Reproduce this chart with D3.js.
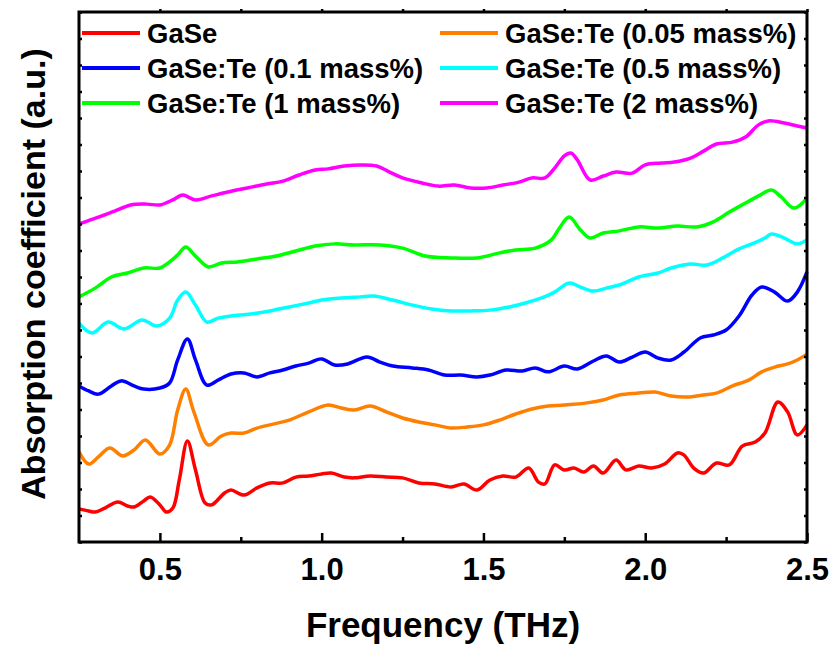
<!DOCTYPE html>
<html>
<head>
<meta charset="utf-8">
<script src="https://cdn.jsdelivr.net/npm/d3@7"></script>
<style>
  body { margin: 0; background: #fff; }
  text { font-family: "Liberation Sans", Arial, sans-serif; font-weight: bold; fill: #000; }
</style>
</head>
<body>
<svg id="chart" width="833" height="650"></svg>
<script>
// Absorption spectra (offset for clarity), frequency in THz, absorption in a.u.
const seriesNames = [
  "GaSe",
  "GaSe:Te (0.05 mass%)",
  "GaSe:Te (0.1 mass%)",
  "GaSe:Te (0.5 mass%)",
  "GaSe:Te (1 mass%)",
  "GaSe:Te (2 mass%)"
];
const seriesColors = ["#ff0000", "#ff8000", "#0000ff", "#00ffff", "#00ff00", "#ff00ff"];

const gaSe = [
  [0.25,1.25],[0.28,1.17],[0.30,1.13],[0.33,1.28],[0.37,1.51],[0.40,1.36],[0.42,1.32],
  [0.45,1.55],[0.47,1.70],[0.50,1.40],[0.52,1.13],[0.54,1.28],[0.56,2.34],[0.585,3.81],
  [0.61,2.72],[0.64,1.47],[0.66,1.40],[0.70,1.85],[0.72,1.96],[0.76,1.77],[0.80,2.04],
  [0.84,2.23],[0.88,2.23],[0.92,2.45],[0.96,2.49],[1.00,2.57],[1.03,2.60],[1.07,2.45],
  [1.10,2.42],[1.15,2.49],[1.20,2.45],[1.25,2.42],[1.30,2.23],[1.35,2.19],[1.40,2.08],
  [1.44,2.19],[1.48,1.96],[1.52,2.34],[1.56,2.49],[1.60,2.45],[1.64,2.79],[1.67,2.26],
  [1.69,2.19],[1.72,2.91],[1.75,2.72],[1.78,2.79],[1.81,2.64],[1.84,2.87],[1.87,2.60],
  [1.91,3.09],[1.94,2.72],[1.98,2.87],[2.02,2.79],[2.06,2.94],[2.10,3.36],[2.12,3.28],
  [2.15,2.79],[2.18,2.60],[2.22,2.98],[2.26,2.91],[2.30,3.62],[2.34,3.77],[2.37,4.11],
  [2.41,5.28],[2.44,4.91],[2.47,4.04],[2.50,4.42]
];
const te005 = [
  [0.25,3.40],[0.28,2.94],[0.31,3.21],[0.345,3.55],[0.385,3.25],[0.42,3.47],[0.455,3.85],
  [0.50,3.32],[0.53,3.66],[0.555,4.98],[0.58,5.77],[0.605,4.91],[0.65,3.66],[0.69,4.00],
  [0.72,4.11],[0.76,4.11],[0.80,4.30],[0.85,4.45],[0.90,4.60],[0.96,4.91],[1.02,5.17],
  [1.06,5.06],[1.10,4.98],[1.15,5.13],[1.20,4.91],[1.25,4.68],[1.30,4.53],[1.35,4.42],
  [1.40,4.30],[1.45,4.34],[1.50,4.42],[1.55,4.60],[1.60,4.83],[1.65,5.02],[1.70,5.13],
  [1.75,5.17],[1.82,5.25],[1.87,5.36],[1.92,5.55],[1.98,5.62],[2.03,5.66],[2.08,5.51],
  [2.13,5.47],[2.18,5.55],[2.22,5.62],[2.27,5.89],[2.32,6.11],[2.36,6.42],[2.40,6.60],
  [2.44,6.72],[2.47,6.87],[2.50,7.09]
];
const te01 = [
  [0.25,5.89],[0.28,5.70],[0.31,5.58],[0.35,5.89],[0.38,6.08],[0.42,5.89],[0.45,5.77],
  [0.50,5.81],[0.53,6.00],[0.555,6.87],[0.585,7.66],[0.61,6.87],[0.645,5.92],[0.68,6.11],
  [0.72,6.34],[0.76,6.38],[0.80,6.23],[0.84,6.38],[0.88,6.49],[0.92,6.64],[0.96,6.75],
  [1.00,6.91],[1.04,6.68],[1.08,6.72],[1.14,6.98],[1.18,6.79],[1.22,6.64],[1.28,6.57],
  [1.33,6.49],[1.38,6.30],[1.43,6.30],[1.48,6.23],[1.52,6.30],[1.57,6.49],[1.62,6.45],
  [1.66,6.57],[1.70,6.42],[1.75,6.64],[1.79,6.53],[1.84,6.83],[1.88,7.02],[1.92,6.79],
  [1.96,6.98],[2.00,7.17],[2.04,6.94],[2.08,6.87],[2.12,7.17],[2.17,7.70],[2.21,7.81],
  [2.25,8.00],[2.29,8.53],[2.33,9.32],[2.36,9.62],[2.40,9.43],[2.44,9.09],[2.47,9.43],
  [2.50,10.19]
];
const te05 = [
  [0.25,8.26],[0.29,7.89],[0.34,8.30],[0.39,8.04],[0.445,8.38],[0.49,8.15],[0.53,8.45],
  [0.555,9.13],[0.58,9.43],[0.61,8.94],[0.645,8.30],[0.68,8.45],[0.72,8.53],[0.78,8.60],
  [0.84,8.72],[0.90,8.87],[0.96,9.02],[1.00,9.13],[1.06,9.21],[1.12,9.25],[1.16,9.28],
  [1.22,9.13],[1.28,8.94],[1.34,8.79],[1.40,8.72],[1.46,8.72],[1.52,8.75],[1.58,8.87],
  [1.63,9.02],[1.68,9.21],[1.72,9.43],[1.765,9.77],[1.80,9.62],[1.84,9.47],[1.88,9.58],
  [1.92,9.70],[1.98,10.00],[2.04,10.15],[2.08,10.34],[2.14,10.49],[2.19,10.45],[2.24,10.72],
  [2.29,11.06],[2.33,11.25],[2.37,11.47],[2.39,11.62],[2.43,11.47],[2.47,11.25],[2.50,11.40]
];
const te1 = [
  [0.25,9.25],[0.30,9.58],[0.35,10.00],[0.40,10.15],[0.45,10.34],[0.50,10.34],[0.53,10.57],
  [0.555,10.83],[0.58,11.13],[0.61,10.79],[0.65,10.38],[0.69,10.53],[0.74,10.57],[0.80,10.68],
  [0.86,10.79],[0.92,10.98],[0.98,11.17],[1.04,11.25],[1.10,11.21],[1.18,11.21],[1.25,11.09],
  [1.32,10.79],[1.40,10.72],[1.48,10.72],[1.55,10.91],[1.60,11.02],[1.66,11.09],[1.71,11.40],
  [1.735,11.85],[1.765,12.26],[1.80,11.77],[1.83,11.47],[1.87,11.66],[1.92,11.74],[1.98,11.89],
  [2.04,11.85],[2.10,11.92],[2.16,11.89],[2.21,12.08],[2.26,12.45],[2.31,12.79],[2.35,13.06],
  [2.39,13.28],[2.42,13.02],[2.46,12.60],[2.50,12.98]
];
const te2 = [
  [0.25,12.00],[0.31,12.26],[0.36,12.49],[0.41,12.72],[0.46,12.75],[0.50,12.72],[0.54,12.91],
  [0.57,13.09],[0.61,12.91],[0.66,13.06],[0.71,13.21],[0.77,13.36],[0.83,13.51],[0.88,13.62],
  [0.93,13.85],[0.98,14.04],[1.02,14.08],[1.07,14.19],[1.12,14.23],[1.17,14.19],[1.21,13.96],
  [1.25,13.74],[1.31,13.55],[1.36,13.43],[1.41,13.47],[1.46,13.36],[1.51,13.36],[1.56,13.47],
  [1.61,13.58],[1.65,13.74],[1.69,13.74],[1.72,14.11],[1.75,14.57],[1.77,14.68],[1.79,14.42],
  [1.83,13.66],[1.87,13.81],[1.91,13.96],[1.96,13.92],[2.00,14.23],[2.05,14.30],[2.09,14.34],
  [2.14,14.49],[2.18,14.75],[2.22,15.02],[2.27,15.09],[2.31,15.28],[2.35,15.74],[2.38,15.89],
  [2.43,15.81],[2.47,15.70],[2.50,15.62]
];
const seriesData = [gaSe, te005, te01, te05, te1, te2];

const xMajorTicks = [0.5, 1.0, 1.5, 2.0, 2.5];
const xMinorTicks = [0.75, 1.25, 1.75, 2.25];
const yTicks = d3.range(0, 21, 1);

const W = 833, H = 650;
const margin = { top: 12, right: 26, bottom: 108, left: 79 };
const svg = d3.select("#chart");

const x = d3.scaleLinear().domain([0.25, 2.5]).range([margin.left, W - margin.right]);
const y = d3.scaleLinear().domain([0, 20]).range([H - margin.bottom, margin.top]);

const plotBottom = H - margin.bottom, plotTop = margin.top;
const plotLeft = margin.left, plotRight = W - margin.right;

// Data curves
const line = d3.line()
  .x(d => x(d[0]))
  .y(d => y(d[1]))
  .curve(d3.curveCatmullRom.alpha(0.5));

svg.append("g").selectAll("path")
  .data(seriesData)
  .join("path")
  .attr("d", line)
  .attr("fill", "none")
  .attr("stroke", (d, i) => seriesColors[i])
  .attr("stroke-width", 3.5)
  .attr("stroke-linejoin", "round");

// Axes
function styleAxis(g) {
  g.select(".domain").remove();
  g.selectAll(".tick line").attr("stroke", "#000").attr("stroke-width", 2.5);
}

const xAxis = svg.append("g")
  .attr("transform", `translate(0,${plotBottom})`)
  .call(d3.axisBottom(x).tickValues(xMajorTicks).tickSize(-9).tickSizeOuter(0)
    .tickPadding(16).tickFormat(d3.format(".1f")))
  .call(styleAxis);
xAxis.selectAll(".tick text")
  .attr("font-size", 31)
  .attr("font-family", "'Liberation Sans', Arial, sans-serif")
  .attr("font-weight", "bold")
  .attr("fill", "#000");

svg.append("g")
  .attr("transform", `translate(0,${plotBottom})`)
  .call(d3.axisBottom(x).tickValues(xMinorTicks).tickSize(-5).tickSizeOuter(0).tickFormat(""))
  .call(styleAxis);

svg.append("g")
  .attr("transform", `translate(0,${plotTop})`)
  .call(d3.axisTop(x).tickValues(xMajorTicks.concat(xMinorTicks)).tickSize(3).tickSizeOuter(0).tickFormat(""))
  .call(styleAxis);

svg.append("g")
  .attr("transform", `translate(${plotLeft},0)`)
  .call(d3.axisLeft(y).tickValues(yTicks).tickSize(-3).tickSizeOuter(0).tickFormat(""))
  .call(styleAxis);

svg.append("g")
  .attr("transform", `translate(${plotRight},0)`)
  .call(d3.axisRight(y).tickValues(yTicks).tickSize(-3).tickSizeOuter(0).tickFormat(""))
  .call(styleAxis);

// Plot frame
svg.append("rect")
  .attr("x", plotLeft).attr("y", plotTop)
  .attr("width", plotRight - plotLeft).attr("height", plotBottom - plotTop)
  .attr("fill", "none").attr("stroke", "#000").attr("stroke-width", 3);

// Axis titles
svg.append("text")
  .attr("x", (plotLeft + plotRight) / 2).attr("y", 637)
  .attr("text-anchor", "middle").attr("font-size", 35)
  .text("Frequency (THz)");

svg.append("text")
  .attr("transform", `translate(45,${(plotTop + plotBottom) / 2 - 3}) rotate(-90)`)
  .attr("text-anchor", "middle").attr("font-size", 34)
  .text("Absorption coefficient (a.u.)");

// Legend: two columns, three rows
const legendCols = [82, 440];
const legendRows = [33, 68, 103];
const legend = svg.append("g").selectAll("g")
  .data(seriesNames)
  .join("g")
  .attr("transform", (d, i) => `translate(${legendCols[i % 2]},${legendRows[Math.floor(i / 2)]})`);
legend.append("line")
  .attr("x1", 0).attr("x2", 58).attr("y1", 0).attr("y2", 0)
  .attr("stroke", (d, i) => seriesColors[i]).attr("stroke-width", 4);
legend.append("text")
  .attr("x", 65).attr("y", 10)
  .attr("font-size", 27.5)
  .text(d => d);
</script>
</body>
</html>
